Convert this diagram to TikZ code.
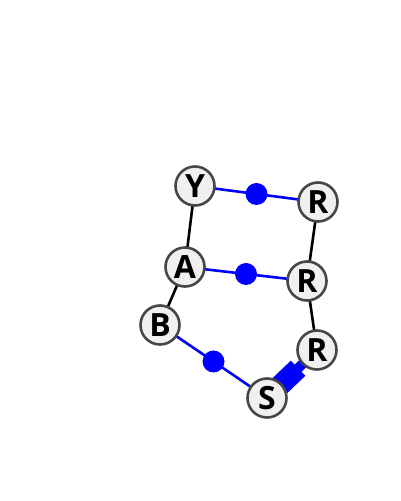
\documentclass[tikz,border=0pt]{standalone}
\usepackage{fontspec}
\setsansfont{Open Sans}
\usepackage{tikz}
\usepackage{xcolor}

\begin{document}
\begin{tikzpicture}[x=1pt,y=1pt]
      \useasboundingbox(0,0) rectangle (400,501);
      \tikzset{V/.style = {shape=circle, draw=black!72, line width=2.6pt, fill=black!6, minimum size=39pt, inner sep=0pt, text=black, font=\sffamily\bfseries\fontsize{32}{32}\selectfont}}
      \tikzset{E/.style = {draw=black,line width=2.6pt}}
      \tikzset{B/.style = {draw=blue,line width=2.6pt}}
      \tikzset{D/.style = {shape=circle, fill=blue, minimum size=22pt, inner sep=0pt}}
      \coordinate (y0) at (195,315);
      \coordinate (r00) at (318,299);
      \coordinate (a0) at (185,234);
      \coordinate (r10) at (307,220);
      \coordinate (b0) at (160,176);
      \coordinate (r20) at (317,151);
      \coordinate (s0) at (267,103);
      \draw[E] (y0) to (a0);
      \draw[E] (a0) to (b0);
      \draw[E] (r00) to (r10);
      \draw[E] (r10) to (r20);
      \draw[B] (y0) to node[D](m0){} (r00);
      \draw[B] (a0) to node[D](m1){} (r10);
      \draw[B] (b0) to node[D](m2){} (s0);
      \fill[blue,shift={(s0)},rotate=43.8] (18,-10.5) -- (43,-10.5) -- (43,-5) -- (52,-5) -- (52,5) -- (43,5) -- (43,10.5) -- (18,10.5) -- cycle;
      \node[V](y) at (y0) {Y};
      \node[V](r0) at (r00) {R};
      \node[V](a) at (a0) {A};
      \node[V](r1) at (r10) {R};
      \node[V](b) at (b0) {B};
      \node[V](r2) at (r20) {R};
      \node[V](s) at (s0) {S};
    \end{tikzpicture}
\end{document}
